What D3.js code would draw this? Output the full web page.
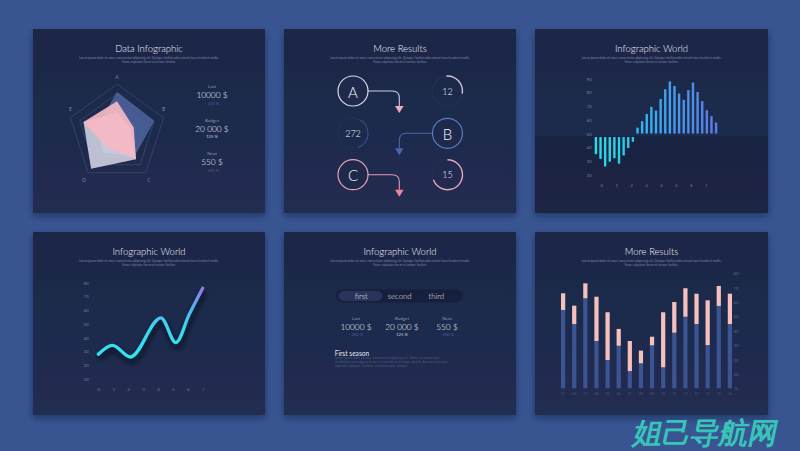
<!DOCTYPE html>
<html><head><meta charset="utf-8">
<script src="https://cdn.jsdelivr.net/npm/d3@7/dist/d3.min.js"></script>
<style>
html,body{margin:0;padding:0;background:#385591;}
svg{display:block;}
text{font-family:Lato,"Open Sans",sans-serif;}
</style></head><body>
<svg id="chart" width="800" height="451"></svg>
<script>
// ---------------- DATA ----------------
const panelTitles = ["Data Infographic","More Results","Infographic World","Infographic World","Infographic World","More Results"];
const loremLine1 = "Lorem ipsum dolor sit amet, consectetur adipiscing elit. Quisque facilisis odio rutrum lacus hendrerit mollis.";
const loremLine2 = "Fusce vulputate lorem vel ornare facilisis.";

const radarAxes = ["A","B","C","D","E"];
const radarLevels = [0.2,0.4,0.6,0.8,1];
const radarBlue  = [0.84,0.80,0.60,0.50,0.42];
const radarWhite = [0.42,0.30,0.66,0.90,0.72];
const radarPink  = [0.65,0.36,0.66,0.36,0.72];

const statLabels  = ["Last","Budget","Next"];
const statValues  = ["10000 $","20 000 $","550 $"];
const statChanges = ["- 200 %","125 %","- 200 %"];

const flowLetters = ["A","B","C"];
const gaugeLabels = ["12","272","15"];
const gaugeStartDeg = [-4, 25, 0];
const gaugeEndDeg   = [100, 160, 250];

const barNeg = [35,31.5,26,29.5,32,28,34,39.5,44];
const barPos = [54.3,59,64.3,69.5,66.7,75.2,82.3,88,84.7,79.2,74.6,81.7,87.2,80.3,73.6,67,62.7,58.1];
const barTicksY = [20,30,40,50,60,70,80,90];
const barTicksX = [0,1,2,3,4,5,6,7];

const lineX = [0,0.95,2.15,4.2,5.2,6.1,7];
const lineY = [28,34.5,26,54.5,36.5,57,76];
const lineTicksY = [10,20,30,40,50,60,70,80];
const lineTicksX = [0,1,2,3,4,5,6,7];

const tabLabels = ["first","second","third"];
const seasonTitle = "First season";
const seasonLines = [
  "Lorem ipsum dolor sit amet, consectetur adipiscing elit. Donec vel ipsum lacus.",
  "Vestibulum lorem dignissim nisi vel convallis scelerisque lobortis. Aenean consequat",
  "imperdiet volutpat. Curabitur et pellentesque volutpat."
];

const stackCats  = ["01","02","03","04","05","06","07","08","09","10","11","12","13","14","15","16"];
const stackBase  = [54.5,44.7,62.6,32.9,19.7,29.6,12,17.4,29.9,14.6,38.7,49.8,44.7,30.1,57.3,44.7];
const stackExtra = [11.6,12.8,10.4,30.8,33.2,11.7,20.9,8.8,6,38.3,21.3,19.8,21.1,31.1,13.9,21.1];
const stackTicks = [0,10,20,30,40,50,60,70,80];

const watermark = "姐己导航网";

// ---------------- SETUP ----------------
const svg = d3.select("#chart");
const defs = svg.append("defs");
const sh = defs.append("filter").attr("id","pshadow").attr("x","-10%").attr("y","-10%").attr("width","120%").attr("height","130%");
sh.append("feDropShadow").attr("dx",0).attr("dy",3).attr("stdDeviation",3).attr("flood-color","#0d1630").attr("flood-opacity",0.45);
const pg = defs.append("linearGradient").attr("id","pgrad").attr("x1",0).attr("y1",0).attr("x2",0).attr("y2",1);
pg.append("stop").attr("offset","0%").attr("stop-color","#1c2747");
pg.append("stop").attr("offset","100%").attr("stop-color","#212d51");
const blur = defs.append("filter").attr("id","lshadow").attr("x","-20%").attr("y","-30%").attr("width","140%").attr("height","160%");
blur.append("feGaussianBlur").attr("stdDeviation",2.5);

svg.append("rect").attr("width",800).attr("height",451).attr("fill","#385591");

const panels = [[33,29,232,184],[284,29,232,184],[535,29,233,184],[33,232,232,183],[284,232,232,183],[535,232,233,183]];
panels.forEach((p,i)=>{
  svg.append("rect").attr("x",p[0]).attr("y",p[1]).attr("width",p[2]).attr("height",p[3])
    .attr("fill","url(#pgrad)").attr("filter","url(#pshadow)");
});
// darker lower band in panel 3
svg.append("rect").attr("x",535).attr("y",136).attr("width",233).attr("height",77).attr("fill","#10182e").attr("opacity",0.35);

panels.forEach((p,i)=>{
  const cx = p[0]+p[2]/2;
  svg.append("text").attr("x",cx).attr("y",p[1]+22.5).attr("text-anchor","middle")
    .attr("font-size",9.5).attr("font-weight",300).attr("fill","#f4f5fb").text(panelTitles[i]);
  svg.append("text").attr("x",cx).attr("y",p[1]+30).attr("text-anchor","middle")
    .attr("font-size",3).attr("fill","#7f89a8").text(loremLine1);
  svg.append("text").attr("x",cx).attr("y",p[1]+33.8).attr("text-anchor","middle")
    .attr("font-size",3).attr("fill","#7f89a8").text(loremLine2);
});

// ---------------- PANEL 1: RADAR ----------------
const rc = {x:117, y:133}, R = 49;
const rScale = d3.scaleLinear().domain([0,1]).range([0,R]);
const angle = d3.scaleLinear().domain([0,radarAxes.length]).range([0,2*Math.PI]);
const radial = d3.lineRadial().angle((d,i)=>angle(i)).radius(d=>rScale(d)).curve(d3.curveLinearClosed);
const radarG = svg.append("g").attr("transform",`translate(${rc.x},${rc.y})`);
radarG.selectAll("path.lvl").data(radarLevels).join("path").attr("class","lvl")
  .attr("d",l=>radial(radarAxes.map(()=>l))).attr("fill","none")
  .attr("stroke","#66739a").attr("stroke-opacity",0.55).attr("stroke-width",0.6);
[[radarBlue,"#5068a2",0.8],[radarWhite,"#dfe1ee",0.82],[radarPink,"#f6b9c3",0.92]].forEach(s=>{
  radarG.append("path").attr("d",radial(s[0])).attr("fill",s[1]).attr("fill-opacity",s[2]);
});
const labelOff = [[0,-7],[0,-9],[3,7.5],[-4,7.5],[0,-9]];
radarG.selectAll("text.ax").data(radarAxes).join("text").attr("class","ax")
  .attr("x",(d,i)=>Math.sin(angle(i))*rScale(1)+labelOff[i][0])
  .attr("y",(d,i)=>-Math.cos(angle(i))*rScale(1)+labelOff[i][1])
  .attr("text-anchor","middle").attr("dominant-baseline","central")
  .attr("font-size",5).attr("fill","#7a84a8").text(d=>d);

function stats(g, x, y0, gap){
  statLabels.forEach((l,i)=>{
    const y = y0 + i*gap;
    g.append("text").attr("x",x).attr("y",y).attr("text-anchor","middle").attr("dominant-baseline","central")
      .attr("font-size",4.5).attr("fill","#8f98b8").text(l);
    g.append("text").attr("x",x).attr("y",y+8.3).attr("text-anchor","middle").attr("dominant-baseline","central")
      .attr("font-size",8.3).attr("font-weight",300).attr("fill","#f4f5fb").text(statValues[i]);
    g.append("text").attr("x",x).attr("y",y+16.3).attr("text-anchor","middle").attr("dominant-baseline","central")
      .attr("font-size",4.2).attr("fill", i===1 ? "#c8cbe0" : "#4a5a92").text(statChanges[i]);
  });
}
stats(svg, 212, 86.7, 33.5);

// ---------------- PANEL 2: FLOW ----------------
const colX = [353, 447.5], rowY = [91, 133.3, 174.7], cr = 15, arrowX = 399.3;
const flowStroke = ["#dcd8ec","#5a7cc4","#e9a3bd"];
const arrowLine = ["#cfc9e4","#4a66a8","#e49ab6"];
const arrowHead = ["#f2a8c0","#4a66a8","#f0849f"];
const flowCol = [0,1,0];
flowLetters.forEach((L,i)=>{
  const cx = colX[flowCol[i]], cy = rowY[i];
  const dir = flowCol[i]===0 ? 1 : -1;
  const sx = cx + dir*cr, r = 7;
  svg.append("path").attr("d",`M${sx},${cy} H${arrowX - dir*r} Q${arrowX},${cy} ${arrowX},${cy+r} V${cy+15}`)
    .attr("fill","none").attr("stroke",arrowLine[i]).attr("stroke-width",1.1);
  svg.append("path").attr("d",`M${arrowX-4.3},${cy+15} L${arrowX+4.3},${cy+15} L${arrowX},${cy+22} Z`).attr("fill",arrowHead[i]);
  svg.append("circle").attr("cx",cx).attr("cy",cy).attr("r",cr).attr("fill","#1e294b")
    .attr("stroke",flowStroke[i]).attr("stroke-width",1.2);
  svg.append("text").attr("x",cx).attr("y",cy+0.5).attr("text-anchor","middle").attr("dominant-baseline","central")
    .attr("font-size",15).attr("font-weight",300).attr("fill","#f4f5fb").text(L);
});
const deg = d3.scaleLinear().domain([0,360]).range([0,2*Math.PI]);
const gaugeCol = [1,0,1];
const gaugeColor = ["#d6c3d3","#34497e","#e9a3bd"];
const ring = d3.arc().innerRadius(cr-0.7).outerRadius(cr+0.7);
gaugeLabels.forEach((t,i)=>{
  const g = svg.append("g").attr("transform",`translate(${colX[gaugeCol[i]]},${rowY[i]})`);
  g.append("path").attr("d",ring({startAngle:0,endAngle:2*Math.PI})).attr("fill","#242f55");
  g.append("path").attr("d",ring({startAngle:deg(gaugeStartDeg[i]),endAngle:deg(gaugeEndDeg[i])})).attr("fill",gaugeColor[i]);
  g.append("text").attr("text-anchor","middle").attr("dominant-baseline","central")
    .attr("font-size",9).attr("font-weight",300).attr("fill","#eef0f7").text(t);
});

// ---------------- PANEL 3: BARS ----------------
const allBars = barNeg.concat(barPos);
const b3x = d3.scaleBand().domain(d3.range(allBars.length)).range([594.7,717.3]).paddingInner(0.48);
const b3y = d3.scaleLinear().domain([20,90]).range([174.7,78.7]);
const b3lx = d3.scaleLinear().domain([0,7]).range([601.3,705.7]);
const negCol = d3.interpolateRgb("#27dde8","#2bc6e2");
const posCol = d3.interpolateRgb("#32b6ef","#5d7be6");
svg.selectAll("rect.neg").data(barNeg).join("rect").attr("class","neg")
  .attr("x",(d,i)=>b3x(i)).attr("width",b3x.bandwidth())
  .attr("y",b3y(50)+3.5).attr("height",d=>b3y(d)-b3y(50)-3.5)
  .attr("fill",(d,i)=>negCol(i/(barNeg.length-1)));
svg.selectAll("rect.pos").data(barPos).join("rect").attr("class","pos")
  .attr("x",(d,i)=>b3x(i+barNeg.length)).attr("width",b3x.bandwidth())
  .attr("y",d=>b3y(d)).attr("height",d=>b3y(50)-b3y(d))
  .attr("fill",(d,i)=>posCol(i/(barPos.length-1)));

const fmt = d3.format("d");
function styleAxis(g, size, color){
  g.select(".domain").remove();
  g.selectAll(".tick line").remove();
  g.selectAll("text").attr("font-size",size).attr("fill",color).attr("font-family","Lato, sans-serif").attr("text-anchor","middle");
}
svg.append("g").attr("transform","translate(589,0)")
  .call(d3.axisLeft(b3y).tickValues(barTicksY).tickFormat(fmt).tickSize(0).tickPadding(0))
  .call(g=>styleAxis(g,4.5,"#717c9e"));
svg.append("g").attr("transform","translate(0,183.5)")
  .call(d3.axisBottom(b3lx).tickValues(barTicksX).tickFormat(fmt).tickSize(0).tickPadding(0))
  .call(g=>styleAxis(g,4.5,"#717c9e"));

// ---------------- PANEL 4: LINE ----------------
const l4x = d3.scaleLinear().domain([0,7]).range([98.3,202.7]);
const l4y = d3.scaleLinear().domain([10,80]).range([379,282.7]);
svg.append("g").attr("transform","translate(86,0)")
  .call(d3.axisLeft(l4y).tickValues(lineTicksY).tickFormat(fmt).tickSize(0).tickPadding(0))
  .call(g=>styleAxis(g,4.5,"#717c9e"));
svg.append("g").attr("transform","translate(0,388)")
  .call(d3.axisBottom(l4x).tickValues(lineTicksX).tickFormat(fmt).tickSize(0).tickPadding(0))
  .call(g=>styleAxis(g,4.5,"#717c9e"));
const lg = defs.append("linearGradient").attr("id","lgrad").attr("gradientUnits","userSpaceOnUse")
  .attr("x1",0).attr("y1",362).attr("x2",0).attr("y2",286);
lg.append("stop").attr("offset","0%").attr("stop-color","#2de8f2");
lg.append("stop").attr("offset","45%").attr("stop-color","#3fd4f2");
lg.append("stop").attr("offset","70%").attr("stop-color","#58b2f0");
lg.append("stop").attr("offset","100%").attr("stop-color","#9076e6");
const linePts = lineX.map((x,i)=>[x,lineY[i]]);
const lineGen = d3.line().x(d=>l4x(d[0])).y(d=>l4y(d[1])).curve(d3.curveMonotoneX);
svg.append("path").attr("d",lineGen(linePts)).attr("fill","none").attr("stroke","#070c1e")
  .attr("stroke-width",5).attr("stroke-opacity",0.7).attr("transform","translate(1,4)").attr("filter","url(#lshadow)");
svg.append("path").attr("d",lineGen(linePts)).attr("fill","none").attr("stroke","url(#lgrad)")
  .attr("stroke-width",3.3).attr("stroke-linecap","round");

// ---------------- PANEL 5: TABS ----------------
svg.append("rect").attr("x",336).attr("y",289.5).attr("width",127).attr("height",13).attr("rx",6.5).attr("fill","#161f3b");
svg.append("rect").attr("x",338.5).attr("y",291).attr("width",44).attr("height",10).attr("rx",5).attr("fill","#29345a");
const tabX = [361.3, 399.7, 436.3];
tabLabels.forEach((t,i)=>{
  svg.append("text").attr("x",tabX[i]).attr("y",296.2).attr("text-anchor","middle").attr("dominant-baseline","central")
    .attr("font-size",7.8).attr("font-weight",300).attr("fill","#e2e5f0").text(t);
});
const statX5 = [356, 402, 447];
statLabels.forEach((l,i)=>{
  svg.append("text").attr("x",statX5[i]).attr("y",318).attr("text-anchor","middle").attr("dominant-baseline","central")
    .attr("font-size",4.5).attr("fill","#8f98b8").text(l);
  svg.append("text").attr("x",statX5[i]).attr("y",326.7).attr("text-anchor","middle").attr("dominant-baseline","central")
    .attr("font-size",8.3).attr("font-weight",300).attr("fill","#f4f5fb").text(statValues[i]);
  svg.append("text").attr("x",statX5[i]).attr("y",334.3).attr("text-anchor","middle").attr("dominant-baseline","central")
    .attr("font-size",4.2).attr("fill", i===1 ? "#c8cbe0" : "#4a5a92").text(statChanges[i]);
});
svg.append("text").attr("x",334.7).attr("y",352.7).attr("dominant-baseline","central")
  .attr("font-size",6.6).attr("fill","#e2e5ef").text(seasonTitle);
seasonLines.forEach((t,i)=>{
  svg.append("text").attr("x",334.7).attr("y",358.8+i*4.3).attr("font-size",3.1).attr("fill","#4f5a82").text(t);
});

// ---------------- PANEL 6: STACKED BARS ----------------
const stackRows = stackCats.map((c,i)=>({cat:c, base:stackBase[i], extra:stackExtra[i]}));
const stacked = d3.stack().keys(["base","extra"])(stackRows);
const s6x = d3.scaleBand().domain(stackCats).range([561,732]).paddingInner(0.62);
const s6y = d3.scaleLinear().domain([0,80]).range([388.3,273.3]);
const stackColors = ["#3a5592","#f6c0bc"];
stacked.forEach((layer,k)=>{
  svg.append("g").selectAll("rect").data(layer).join("rect")
    .attr("x",d=>s6x(d.data.cat)).attr("width",s6x.bandwidth())
    .attr("y",d=>s6y(d[1])).attr("height",d=>s6y(d[0])-s6y(d[1]))
    .attr("fill",stackColors[k]);
});
svg.append("g").attr("transform","translate(736,0)")
  .call(d3.axisRight(s6y).tickValues(stackTicks).tickFormat(fmt).tickSize(0).tickPadding(0))
  .call(g=>styleAxis(g,4.5,"#56628a"));
svg.append("g").attr("transform","translate(0,392.5)")
  .call(d3.axisBottom(s6x).tickSize(0).tickPadding(0))
  .call(g=>styleAxis(g,3.6,"#4a5680"));

// ---------------- WATERMARK ----------------
svg.append("text").attr("x",0).attr("y",0)
  .attr("transform","translate(632,443) skewX(-12)")
  .attr("font-family","'Noto Sans CJK SC',sans-serif").attr("font-weight",900)
  .attr("font-size",29).attr("fill","#38c4b8").text(watermark);
</script>
</body></html>
